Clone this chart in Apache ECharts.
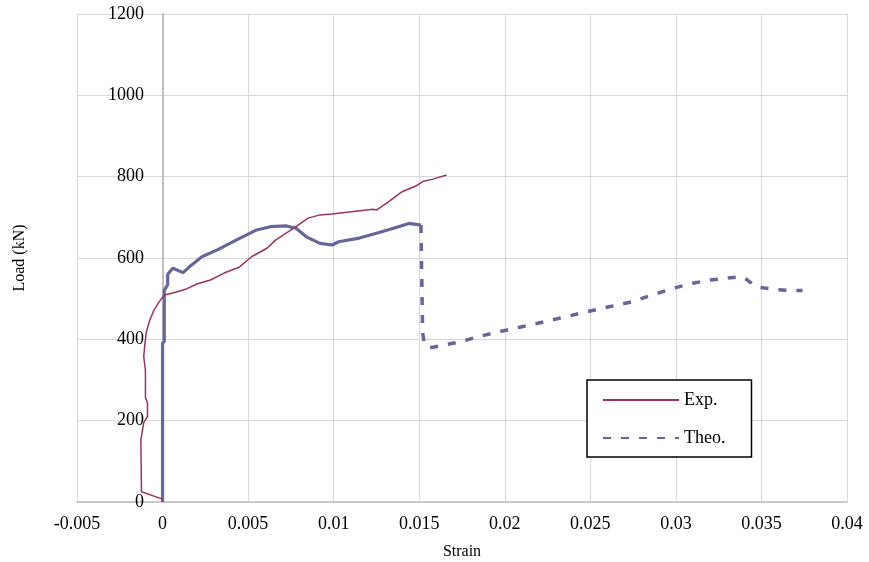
<!DOCTYPE html>
<html><head><meta charset="utf-8">
<script src="https://cdn.jsdelivr.net/npm/echarts@6/dist/echarts.min.js"></script>
<style>html,body{margin:0;padding:0;background:#fff}#c{width:869px;height:562px}</style>
</head><body><div id="c"></div>
<script>
var xTicks = {min: -0.005, max: 0.04, interval: 0.005};
var yTicks = {min: 0, max: 1200, interval: 200};

var expStrain = [0, -0.00123, -0.00127, -0.0011, -0.00088, -0.00088, -0.001, -0.001, -0.0011, -0.00105, -0.00095, -0.00075, -0.0005, -0.0002, 0.0001, 0.0006, 0.0014, 0.002, 0.0028, 0.0036, 0.0045, 0.0052, 0.0061, 0.0066, 0.0078, 0.0085, 0.0092, 0.0099, 0.0123, 0.0125, 0.0131, 0.014, 0.0148, 0.0152, 0.0158, 0.0166];
var expLoad   = [7, 25, 152, 195, 210, 243, 258, 324, 357, 381, 418, 447, 472, 492, 509, 514, 524, 536, 546, 563, 578, 603, 624, 644, 677, 698, 706, 708, 720, 718, 735, 763, 777, 788, 794, 804];

var theoPreStrain = [0, 0, 0.0001, 0.0001, 0.0003, 0.0003, 0.0006, 0.0012, 0.0017, 0.0023, 0.0032, 0.0043, 0.0055, 0.0063, 0.0072, 0.0078, 0.0084, 0.0092, 0.0099, 0.0103, 0.0115, 0.0125, 0.0135, 0.0144, 0.0151];
var theoPreLoad   = [0, 390, 395, 520, 535, 560, 575, 564, 583, 603, 620, 644, 669, 677, 679, 673, 652, 636, 632, 640, 649, 661, 673, 685, 681];

var theoPostStrain = [0.0151, 0.0152, 0.0153, 0.0156, 0.0174, 0.0185, 0.0197, 0.021, 0.0223, 0.0236, 0.0248, 0.0261, 0.0274, 0.0286, 0.0298, 0.031, 0.032, 0.0329, 0.0338, 0.0341, 0.0347, 0.0357, 0.0366, 0.0374];
var theoPostLoad   = [681, 416, 390, 379, 394, 407, 419, 431, 443, 456, 468, 480, 492, 509, 525, 538, 546, 550, 554, 548, 529, 523, 520, 520];

function pairs(xs, ys){ return xs.map(function(x,i){ return [x, ys[i]]; }); }

var serif = 'Liberation Serif';
var expColor = '#993366', theoColor = '#666699';
var chart = echarts.init(document.getElementById('c'));
chart.setOption({
  animation: false,
  backgroundColor: '#fff',
  grid: {left: 77, right: 22, top: 14, bottom: 60, containLabel: false, outerBoundsMode: 'none'},
  graphic: [{
    type: 'text', x: 20, y: 258, rotation: Math.PI / 2,
    style: {text: 'Load (kN)', fontFamily: serif, fontSize: 16, fill: '#000',
            textAlign: 'center', textVerticalAlign: 'middle'}
  }],
  xAxis: {
    type: 'value', min: xTicks.min, max: xTicks.max, interval: xTicks.interval,
    name: 'Strain', nameLocation: 'middle', nameGap: 42,
    nameTextStyle: {fontFamily: serif, fontSize: 16, color: '#000'},
    axisLine: {onZero: false, lineStyle: {color: '#bfbfbf', width: 1.5}},
    axisTick: {show: false},
    axisLabel: {fontFamily: serif, fontSize: 18, color: '#000', margin: 13,
      formatter: function(v){ return String(+v.toFixed(4)); }},
    splitLine: {show: true, lineStyle: {color: '#d9d9d9', width: 1}}
  },
  yAxis: {
    type: 'value', min: yTicks.min, max: yTicks.max, interval: yTicks.interval,
    axisLine: {show: true, onZero: true, lineStyle: {color: '#bfbfbf', width: 2}},
    axisTick: {show: false},
    axisLabel: {fontFamily: serif, fontSize: 18, color: '#000', margin: -67,
      formatter: function(v){ return String(v); }},
    splitLine: {show: true, lineStyle: {color: '#d9d9d9', width: 1}}
  },
  legend: {
    orient: 'vertical', left: 587, top: 380,
    padding: [11, 26, 10, 15], itemGap: 20, itemWidth: 76, itemHeight: 14,
    borderColor: '#000', borderWidth: 1.5, backgroundColor: '#fff',
    itemStyle: {opacity: 0},
    textStyle: {fontFamily: serif, fontSize: 18, color: '#000'},
    data: ['Exp.', 'Theo.']
  },
  series: [
    {name: 'Exp.', type: 'line', symbol: 'none', data: pairs(expStrain, expLoad),
     lineStyle: {color: expColor, width: 1.5}, itemStyle: {color: expColor}, z: 3},
    {name: 'Theo. (pre-peak)', type: 'line', symbol: 'none', data: pairs(theoPreStrain, theoPreLoad),
     lineStyle: {color: theoColor, width: 3.2}, itemStyle: {color: theoColor}, z: 2},
    {name: 'Theo.', type: 'line', symbol: 'none', data: pairs(theoPostStrain, theoPostLoad),
     lineStyle: {color: theoColor, width: 3.5, type: [8, 10]}, itemStyle: {color: theoColor}, z: 2}
  ]
});
</script></body></html>
